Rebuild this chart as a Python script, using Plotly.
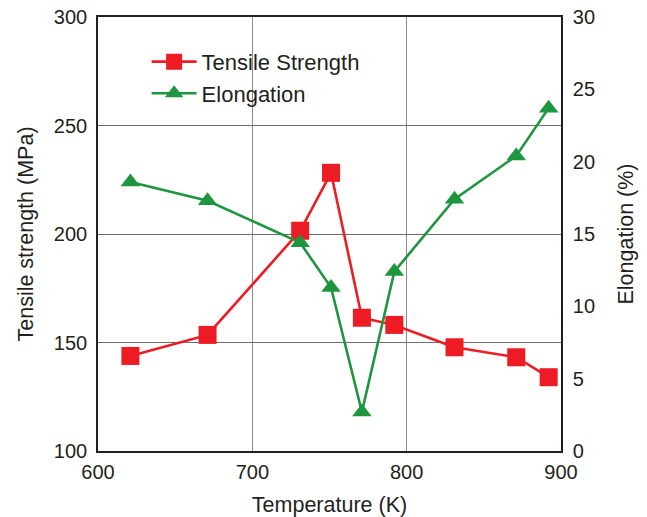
import plotly.graph_objects as go

temperature_k = [621, 671, 731, 751, 771, 792, 831, 871, 892]
tensile_strength_mpa = [143.8, 153.5, 201.5, 228.2, 161.4, 158.1, 147.8, 143.2, 134.0]
elongation_pct = [18.6, 17.3, 14.4, 11.3, 2.7, 12.4, 17.4, 20.4, 23.7]

x_ticks = [600, 700, 800, 900]
y_left_ticks = [100, 150, 200, 250, 300]
y_right_ticks = [0, 5, 10, 15, 20, 25, 30]

RED = "#ed1c24"
GREEN = "#1e963f"
TXT = "#231f20"
FONT = "Liberation Sans, Arial, sans-serif"

fig = go.Figure()
fig.add_trace(go.Scatter(
    x=temperature_k, y=tensile_strength_mpa, name="Tensile Strength",
    mode="lines+markers",
    line=dict(color=RED, width=2.6),
    marker=dict(symbol="square", size=18, color=RED),
    yaxis="y",
))
fig.add_trace(go.Scatter(
    x=temperature_k, y=elongation_pct, name="Elongation",
    mode="lines+markers",
    line=dict(color=GREEN, width=2.6),
    marker=dict(symbol="triangle-up", size=17, color=GREEN),
    yaxis="y2",
))

fig.update_layout(
    width=647, height=517,
    margin=dict(l=98, r=86, t=17, b=66, autoexpand=False),
    paper_bgcolor="white", plot_bgcolor="white",
    font=dict(family=FONT, size=20, color=TXT),
    showlegend=True,
    legend=dict(x=0.105, y=0.945, xanchor="left", yanchor="top",
                bgcolor="rgba(0,0,0,0)", font=dict(size=22, color=TXT),
                tracegroupgap=0, itemwidth=45),
    xaxis=dict(
        range=[600, 900], tickvals=x_ticks, ticktext=[str(v) for v in x_ticks],
        showgrid=True, gridcolor="#8c8c8c", gridwidth=1.2,
        showline=True, linecolor="#231f20", linewidth=1.6, mirror=True,
        ticks="", zeroline=False, automargin=False,
        tickfont=dict(size=20), ticklabelstandoff=2,
        title=dict(text="Temperature (K)", font=dict(size=21.5, color=TXT), standoff=16),
    ),
    yaxis=dict(
        range=[100, 300], tickvals=y_left_ticks, ticktext=[str(v) for v in y_left_ticks],
        showgrid=True, gridcolor="#6e6e6e", gridwidth=1.2,
        showline=True, linecolor="#231f20", linewidth=1.6, mirror=True,
        ticks="", zeroline=False, automargin=False,
        tickfont=dict(size=20), ticklabelstandoff=5,
        title=dict(text="Tensile strength (MPa)", font=dict(size=21.5, color=TXT), standoff=14),
    ),
    yaxis2=dict(
        range=[0, 30], tickvals=y_right_ticks, ticktext=[str(v) for v in y_right_ticks],
        overlaying="y", side="right", showgrid=False,
        showline=True, linecolor="#231f20", linewidth=1.6,
        ticks="", zeroline=False, automargin=False,
        tickfont=dict(size=20), ticklabelstandoff=6,
        title=dict(text="Elongation (%)", font=dict(size=21.5, color=TXT), standoff=24),
    ),
)

fig.write_html(
    "out.html",
    config={"displayModeBar": False},
    post_script="document.body.style.margin='0';document.body.style.overflow='hidden';",
)
